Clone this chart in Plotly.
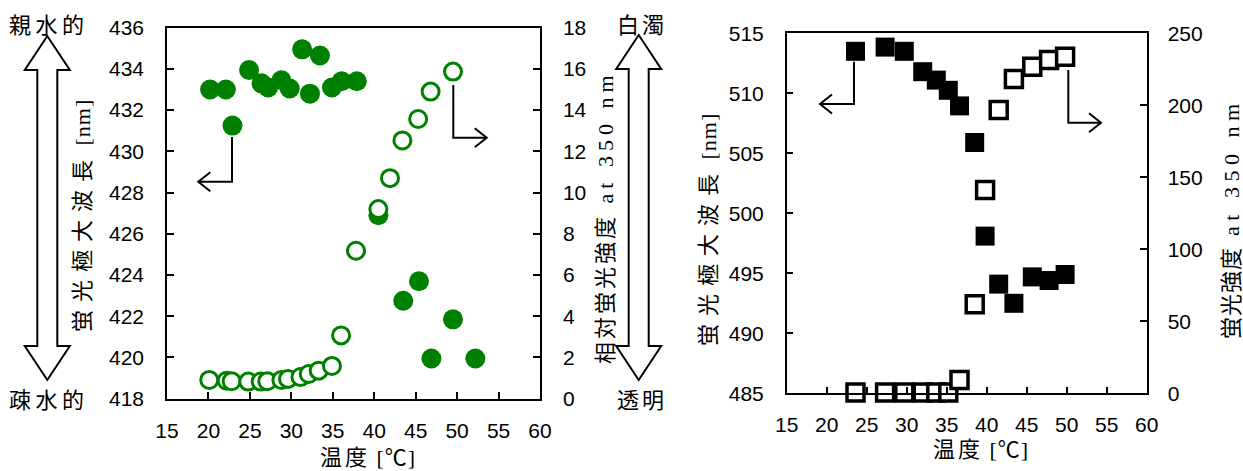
import plotly.graph_objects as go

W, H = 1243, 471

# ---------------- data ----------------
# left chart (green): temperature [°C]
left_temp_wl = [20.2, 22.1, 22.9, 24.9, 26.4, 27.2, 28.8, 29.8, 31.3, 32.25,
                33.45, 34.9, 36.07, 37.9, 40.5, 43.5, 45.4, 46.9, 49.5, 52.2]
left_wl = [433.0, 433.0, 431.25, 433.95, 433.3, 433.1, 433.45, 433.05, 434.95, 432.8,
           434.65, 433.1, 433.4, 433.4, 426.9, 422.75, 423.7, 419.95, 421.85, 419.95]
left_temp_int = [20.1, 22.2, 22.8, 24.8, 26.3, 27.1, 28.8, 29.6, 31.1, 32.1,
                 33.3, 34.9, 36.0, 37.8, 40.5, 41.9, 43.4, 45.3, 46.8, 49.5]
left_int = [0.91, 0.87, 0.85, 0.83, 0.83, 0.85, 0.91, 0.96, 1.05, 1.2,
            1.36, 1.59, 3.07, 7.18, 9.2, 10.7, 12.53, 13.57, 14.9, 15.87]

# right chart (black squares)
right_temp = [23.6, 27.3, 29.7, 32.0, 33.7, 35.2, 36.6, 38.5, 39.8, 41.5,
              43.4, 45.7, 47.8, 49.8]
right_wl = [513.5, 513.85, 513.5, 511.8, 511.1, 510.25, 508.95, 505.9, 498.1, 494.1,
            492.5, 494.7, 494.4, 494.9]
right_int = [0.5, 0.5, 0.5, 0.5, 0.5, 0.5, 9.2, 61.8, 141.2, 196.7,
             218.3, 226.8, 231.5, 233.8]

x_ticks = [15, 20, 25, 30, 35, 40, 45, 50, 55, 60]
left_y_ticks = [418, 420, 422, 424, 426, 428, 430, 432, 434, 436]
left_y2_ticks = [0, 2, 4, 6, 8, 10, 12, 14, 16, 18]
right_y_ticks = [485, 490, 495, 500, 505, 510, 515]
right_y2_ticks = [0, 50, 100, 150, 200, 250]

GREEN = "#008000"
TICKFONT = dict(family="Liberation Sans, Arial, sans-serif", size=21, color="black")
TITLEFONT = dict(family="Liberation Serif, Noto Sans CJK JP", size=22, color="black")
SIDEFONT = dict(family="Noto Sans CJK JP", size=22, color="black")


def spaced(t, ls):
    return f'<span style="letter-spacing:{ls}px">{t}</span>'


x_title = spaced("温度", 3) + spaced(" [℃]", 1)
left_y_title = spaced("蛍光極大波長", 8) + spaced(" [nm]", 1)
left_y2_title = spaced("相対蛍光強度", 3) + spaced(" at 350 nm", 5)
right_y_title = spaced("蛍光極大波長", 8) + spaced(" [nm]", 1)
right_y2_title = spaced("蛍光強度", 1) + spaced(" at 350 nm", 5.5)


def px(x):
    return x / W


def py(y):
    return 1 - y / H


fig = go.Figure()
fig.add_trace(go.Scatter(x=left_temp_wl, y=left_wl, mode="markers", xaxis="x", yaxis="y",
                         cliponaxis=False, hoverinfo="skip",
                         marker=dict(symbol="circle", size=20, color=GREEN, line=dict(width=0))))
fig.add_trace(go.Scatter(x=left_temp_int, y=left_int, mode="markers", xaxis="x", yaxis="y2",
                         cliponaxis=False, hoverinfo="skip",
                         marker=dict(symbol="circle", size=17, color="white",
                                     line=dict(width=3, color=GREEN))))
fig.add_trace(go.Scatter(x=right_temp, y=right_wl, mode="markers", xaxis="x2", yaxis="y3",
                         cliponaxis=False, hoverinfo="skip",
                         marker=dict(symbol="square", size=19, color="black", line=dict(width=0))))
fig.add_trace(go.Scatter(x=right_temp, y=right_int, mode="markers", xaxis="x2", yaxis="y4",
                         cliponaxis=False, hoverinfo="skip",
                         marker=dict(symbol="square", size=17, color="white",
                                     line=dict(width=3.5, color="black"))))

axis_common = dict(showgrid=False, zeroline=False, showline=True, linecolor="black", linewidth=1.5,
                   ticks="inside", ticklen=7, tickwidth=1.5, tickcolor="black", tickfont=TICKFONT,
                   automargin=False)

L_x0, L_x1, L_y0, L_y1 = 167, 540, 27.7, 398.7
R_x0, R_x1, R_y0, R_y1 = 786.7, 1146.7, 33.3, 393.3

fig.update_layout(
    width=W, height=H, autosize=False,
    margin=dict(l=0, r=0, t=0, b=0, pad=0, autoexpand=False),
    paper_bgcolor="white", plot_bgcolor="white", showlegend=False,
    xaxis=dict(domain=[px(L_x0), px(L_x1)], range=[15, 60], tickvals=x_ticks, anchor="y",
               mirror=True, ticklabelstandoff=12, **axis_common),
    yaxis=dict(domain=[py(L_y1), py(L_y0)], range=[418, 436], tickvals=left_y_ticks, anchor="x",
               side="left", ticklabelstandoff=17, **axis_common),
    yaxis2=dict(range=[0, 18], tickvals=left_y2_ticks, overlaying="y", anchor="x", side="right",
                ticklabelstandoff=17, **axis_common),
    xaxis2=dict(domain=[px(R_x0), px(R_x1)], range=[15, 60], tickvals=x_ticks, anchor="y3",
                mirror=True, ticklabelstandoff=12, **axis_common),
    yaxis3=dict(domain=[py(R_y1), py(R_y0)], range=[485, 515], tickvals=right_y_ticks, anchor="x2",
                side="left", ticklabelstandoff=17, **axis_common),
    yaxis4=dict(range=[0, 250], tickvals=right_y2_ticks, overlaying="y3", anchor="x2", side="right",
                ticklabelstandoff=15, **axis_common),
)


def text(t, x, y, font, angle=0):
    fig.add_annotation(text=t, x=px(x), y=py(y), xref="paper", yref="paper", showarrow=False,
                       xanchor="center", yanchor="middle", textangle=angle, font=font)


text(x_title, 367.5, 457, TITLEFONT)
text(x_title, 981, 449, TITLEFONT)
text(left_y_title, 82, 216, TITLEFONT, -90)
text(left_y2_title, 605, 217, TITLEFONT, -90)
text(right_y_title, 708, 230, TITLEFONT, -90)
text(right_y2_title, 1231, 219, TITLEFONT, -90)
text(spaced("親水的", 4.5), 49, 23, SIDEFONT)
text(spaced("疎水的", 4.5), 49, 398, SIDEFONT)
text(spaced("白濁", 3), 642, 23, SIDEFONT)
text(spaced("透明", 3), 642, 398, SIDEFONT)


def path(points, close=False):
    s = "M " + " L ".join(f"{px(a):.5f},{py(b):.5f}" for a, b in points)
    return s + (" Z" if close else "")


def double_arrow(cx, top, bottom, half_head=22.5, half_shaft=10, head_len=34):
    pts = [(cx, top), (cx + half_head, top + head_len), (cx + half_shaft, top + head_len),
           (cx + half_shaft, bottom - head_len), (cx + half_head, bottom - head_len),
           (cx, bottom), (cx - half_head, bottom - head_len), (cx - half_shaft, bottom - head_len),
           (cx - half_shaft, top + head_len), (cx - half_head, top + head_len)]
    fig.add_shape(type="path", path=path(pts, close=True), xref="paper", yref="paper",
                  line=dict(color="black", width=2), fillcolor="rgba(0,0,0,0)")


double_arrow(47.3, 36, 380)
double_arrow(638.7, 35, 380)


def bent_arrow(x0, y0, y1, x1):
    fig.add_shape(type="path", path=path([(x0, y0), (x0, y1), (x1, y1)]), xref="paper", yref="paper",
                  line=dict(color="black", width=2))
    d = -1 if x1 < x0 else 1
    fig.add_shape(type="path", path=path([(x1 - d * 12, y1 - 9.5), (x1, y1), (x1 - d * 12, y1 + 9.5)]),
                  xref="paper", yref="paper", line=dict(color="black", width=2))


bent_arrow(232, 137, 181.7, 198.3)
bent_arrow(453.3, 85, 137.7, 486.7)
bent_arrow(854, 61.7, 104, 820)
bent_arrow(1068.3, 70, 122.7, 1101)

fig.write_html("out.html", config={"displayModeBar": False},
               post_script="document.body.style.margin='0px';document.body.style.overflow='hidden';")
